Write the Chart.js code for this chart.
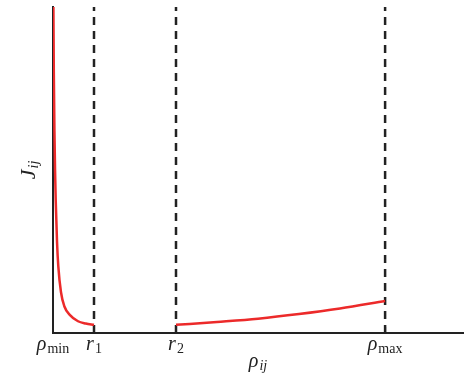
<!DOCTYPE html>
<html>
<head>
<meta charset="UTF-8">
<title>J_ij vs rho_ij</title>
<script src="https://cdn.jsdelivr.net/npm/chart.js"></script>
<style>
  body { margin: 0; background: #fff; }
</style>
</head>
<body>
<canvas id="c" width="465" height="377"></canvas>
<script>
// tick positions on the rho axis and their labels (main glyph + subscript)
const tickValues = [0, 1, 3, 8.1];
const tickMains = ['ρ', 'r', 'r', 'ρ'];
const tickSubs = ['min', '1', '2', 'max'];

// short-range branch (rho_min .. r1)
const xNear = [0.01, 0.02, 0.035, 0.05, 0.066, 0.098, 0.129, 0.195, 0.276, 0.415, 0.61, 0.8, 1.0];
const yNear = [100, 80, 62, 50, 40.8, 28, 20.5, 12.5, 8.2, 5.5, 3.6, 2.9, 2.5];

// long-range branch (r2 .. rho_max)
const xFar = [3, 4, 5, 6, 7, 8.1];
const yFar = [2.5, 3.4, 4.4, 5.8, 7.5, 9.8];

// dashed guides at r1, r2, rho_max
const guideValues = [1, 3, 8.1];

const red = '#ec2a2a';
const ink = '#222';

function pts(xs, ys) { return xs.map((x, i) => ({ x: x, y: ys[i] })); }

const datasets = [
  { data: pts(xNear, yNear), borderColor: red, borderWidth: 2.5, pointRadius: 0, cubicInterpolationMode: 'monotone' },
  { data: pts(xFar, yFar), borderColor: red, borderWidth: 2.5, pointRadius: 0, cubicInterpolationMode: 'monotone' }
];
guideValues.forEach(g => {
  datasets.push({ data: [{ x: g, y: 0 }, { x: g, y: 100 }], borderColor: ink, borderWidth: 2.5, borderDash: [8, 6], pointRadius: 0 });
});

function drawSub(ctx, x, yBase, main, sub, mainFont, subFont, subDrop) {
  ctx.font = mainFont;
  const wm = ctx.measureText(main).width;
  ctx.font = subFont;
  const ws = ctx.measureText(sub).width;
  let x0 = x - (wm + ws + 1) / 2;
  ctx.font = mainFont;
  ctx.fillText(main, x0, yBase);
  ctx.font = subFont;
  ctx.fillText(sub, x0 + wm + 1, yBase + subDrop);
}

const labels = {
  id: 'labels',
  afterDraw(chart) {
    const ctx = chart.ctx;
    const xs = chart.scales.x;
    const area = chart.chartArea;
    ctx.save();
    ctx.fillStyle = ink;
    ctx.strokeStyle = ink;
    ctx.lineWidth = 2;
    ctx.textBaseline = 'alphabetic';
    tickValues.forEach((v, i) => {
      const px = xs.getPixelForValue(v);
      ctx.beginPath();
      ctx.moveTo(px, area.bottom);
      ctx.lineTo(px, area.bottom - 6);
      ctx.stroke();
      drawSub(ctx, px, 350, tickMains[i], tickSubs[i],
        'italic 20px "Liberation Serif"', '14px "Liberation Serif"', 3);
    });
    // x axis title
    drawSub(ctx, (area.left + area.right) / 2, 367, 'ρ', 'ij',
      'italic 20px "Liberation Serif"', 'italic 14px "Liberation Serif"', 3);
    // y axis title
    ctx.translate(35, (area.top + area.bottom) / 2);
    ctx.rotate(-Math.PI / 2);
    drawSub(ctx, 0, 0, 'J', 'ij',
      'italic 22px "Liberation Serif"', 'italic 14px "Liberation Serif"', 3);
    ctx.restore();
  }
};

new Chart(document.getElementById('c'), {
  type: 'line',
  data: { datasets: datasets },
  options: {
    responsive: false,
    animation: false,
    layout: { padding: { left: 53, right: 2, top: 7, bottom: 44 } },
    plugins: { legend: { display: false }, tooltip: { enabled: false } },
    scales: {
      x: {
        type: 'linear', min: 0, max: 10,
        ticks: { display: false },
        grid: { display: false, drawTicks: false },
        border: { display: true, color: ink, width: 2 }
      },
      y: {
        min: 0, max: 100,
        ticks: { display: false },
        grid: { display: false, drawTicks: false },
        border: { display: true, color: ink, width: 2 }
      }
    }
  },
  plugins: [labels]
});
</script>
</body>
</html>
